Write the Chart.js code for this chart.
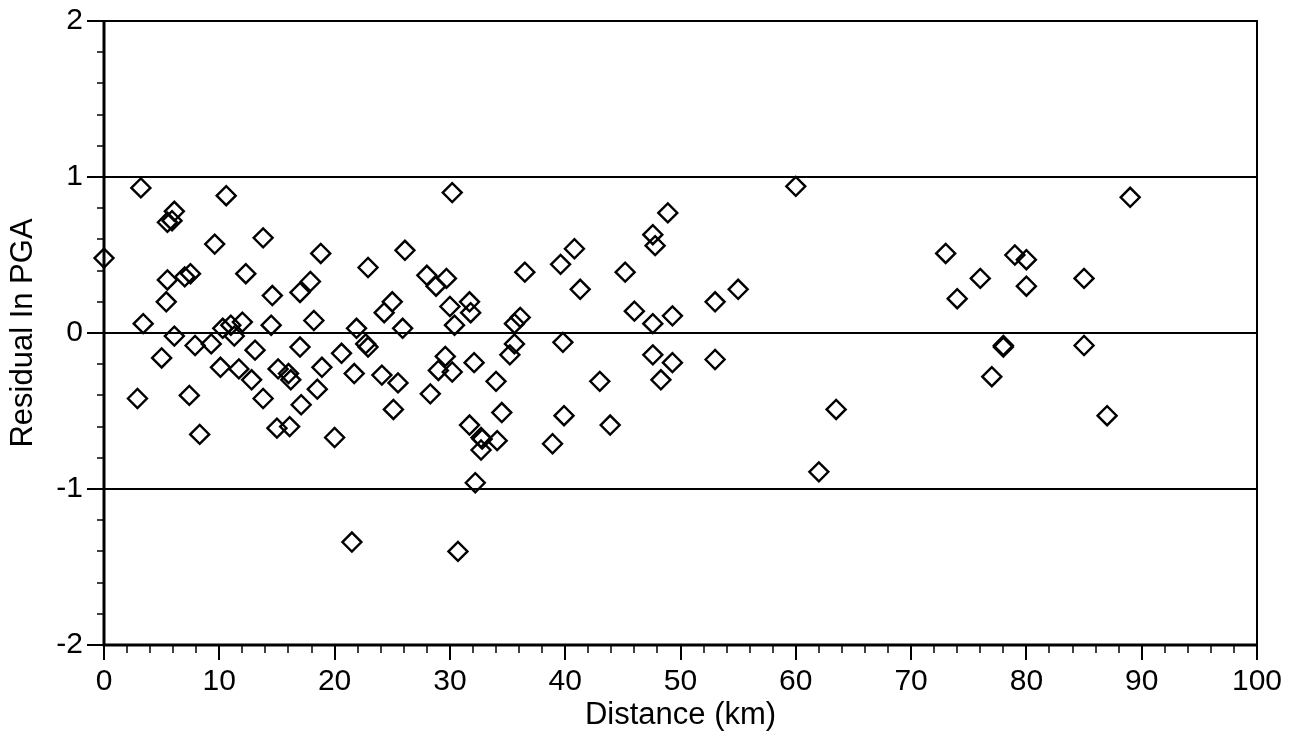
<!DOCTYPE html>
<html>
<head>
<meta charset="utf-8">
<script src="https://cdn.jsdelivr.net/npm/chart.js@4/dist/chart.umd.min.js"></script>
<style>
  html, body { margin: 0; padding: 0; background: #fff; }
  canvas { display: block; }
</style>
</head>
<body>
<canvas id="myChart" width="1297" height="743"></canvas>
<script>
// distance (km) of each record
const distances = [
  0, 3.2, 10.6, 6.1, 5.5, 5.9, 9.6, 13.8, 18.8, 22.9,
  5.5, 7.0, 7.5, 12.3, 14.6, 17.0, 17.9, 5.4, 24.3, 3.4,
  6.1, 10.3, 11.0, 12.0, 11.3, 14.5, 18.2, 21.9, 22.7, 22.9,
  5.0, 7.9, 9.3, 13.1, 17.0, 20.6, 10.1, 11.7, 12.8, 15.1,
  16.0, 16.2, 18.9, 21.7, 24.1, 2.9, 7.4, 13.8, 18.5, 17.1,
  25.1, 8.3, 15.0, 16.1, 20.0, 21.5,
  30.2, 48.9, 47.6, 47.8, 26.1, 40.8, 39.6, 36.5, 45.2, 28.0,
  28.8, 29.7, 41.3, 25.0, 30.0, 31.7, 31.8, 25.9, 30.4, 36.1,
  35.6, 46.0, 47.6, 49.3, 39.8, 35.6, 35.2, 29.6, 32.1, 47.6,
  49.3, 25.5, 29.0, 30.2, 34.0, 43.0, 48.3, 28.3, 34.5, 39.9,
  43.9, 31.7, 32.7, 32.8, 34.1, 32.7, 38.9, 32.2, 30.7,
  60, 89, 73, 79, 80, 76, 85, 74, 80, 53,
  55, 53, 78, 78, 85, 77, 63.5, 87, 62
]
// residual ln PGA for each record
const residuals = [
  0.48, 0.93, 0.88, 0.78, 0.71, 0.72, 0.57, 0.61, 0.51, 0.42,
  0.34, 0.36, 0.38, 0.38, 0.24, 0.26, 0.33, 0.20, 0.13, 0.06,
  -0.02, 0.03, 0.05, 0.07, -0.02, 0.05, 0.08, 0.03, -0.07, -0.09,
  -0.16, -0.08, -0.07, -0.11, -0.09, -0.13, -0.22, -0.23, -0.30, -0.23,
  -0.26, -0.30, -0.22, -0.26, -0.27, -0.42, -0.40, -0.42, -0.36, -0.46,
  -0.49, -0.65, -0.61, -0.60, -0.67, -1.34,
  0.90, 0.77, 0.63, 0.56, 0.53, 0.54, 0.44, 0.39, 0.39, 0.37,
  0.30, 0.35, 0.28, 0.20, 0.17, 0.20, 0.13, 0.03, 0.05, 0.10,
  0.06, 0.14, 0.06, 0.11, -0.06, -0.07, -0.14, -0.15, -0.19, -0.14,
  -0.19, -0.32, -0.24, -0.25, -0.31, -0.31, -0.30, -0.39, -0.51, -0.53,
  -0.59, -0.59, -0.67, -0.68, -0.69, -0.75, -0.71, -0.96, -1.40,
  0.94, 0.87, 0.51, 0.50, 0.47, 0.35, 0.35, 0.22, 0.30, 0.20,
  0.28, -0.17, -0.08, -0.09, -0.08, -0.28, -0.49, -0.53, -0.89
]
const xTicks = [0, 10, 20, 30, 40, 50, 60, 70, 80, 90, 100]
const yTicks = [-2, -1, 0, 1, 2]
const gridValues = [-1, 0, 1]

const points = distances.map((d, i) => ({ x: d, y: residuals[i] }))

const fontFamily = '"Liberation Sans", Arial, Helvetica, sans-serif'

// frame, tick marks and the -1/0/1 lines
const framePlugin = {
  id: 'frame',
  beforeDatasetsDraw: (chart) => {
    const { ctx, chartArea: { left, right, top, bottom }, scales: { x, y } } = chart
    ctx.save()
    ctx.strokeStyle = '#000'
    ctx.lineCap = 'butt'

    // horizontal lines
    ctx.lineWidth = 2
    gridValues.forEach(v => {
      const py = Math.round(y.getPixelForValue(v))
      ctx.beginPath()
      ctx.moveTo(left, py)
      ctx.lineTo(right, py)
      ctx.stroke()
    })

    // top + right border
    ctx.lineWidth = 2
    ctx.beginPath()
    ctx.moveTo(left, top)
    ctx.lineTo(right, top)
    ctx.lineTo(right, bottom)
    ctx.stroke()

    // left + bottom axis, heavier
    ctx.lineWidth = 3
    ctx.beginPath()
    ctx.moveTo(left, top - 1)
    ctx.lineTo(left, bottom)
    ctx.lineTo(right + 1, bottom)
    ctx.stroke()

    // y ticks every 0.2
    ctx.lineWidth = 1.5
    for (let i = -20; i <= 20; i += 2) {
      const v = i / 10
      const py = Math.round(y.getPixelForValue(v))
      const len = (i % 10 === 0) ? 17 : 7
      ctx.lineWidth = (i % 10 === 0) ? 2 : 1.5
      ctx.beginPath()
      ctx.moveTo(left - len, py)
      ctx.lineTo(left, py)
      ctx.stroke()
    }
    // x ticks every 2 km
    for (let v = 0; v <= 100; v += 2) {
      const px = Math.round(x.getPixelForValue(v))
      const len = (v % 10 === 0) ? 15 : 8
      ctx.lineWidth = (v % 10 === 0) ? 2 : 1.5
      ctx.beginPath()
      ctx.moveTo(px, bottom)
      ctx.lineTo(px, bottom + len)
      ctx.stroke()
    }
    ctx.restore()
  }
}

const config = {
  type: 'scatter',
  data: {
    datasets: [{
      label: 'Residual',
      data: points,
      pointStyle: 'rectRot',
      pointRadius: 9.5,
      pointHoverRadius: 9.5,
      borderColor: '#000',
      backgroundColor: 'rgba(0,0,0,0)',
      pointBorderWidth: 2.4,
      clip: false
    }]
  },
  options: {
    responsive: false,
    animation: false,
    layout: { padding: { left: 0, right: 40, top: 21, bottom: 0 } },
    plugins: {
      legend: { display: false },
      tooltip: { enabled: false }
    },
    scales: {
      x: {
        type: 'linear',
        min: 0,
        max: 100,
        afterBuildTicks: (scale) => { scale.ticks = xTicks.map(v => ({ value: v })) },
        afterFit: (scale) => {
          scale.height = 98
          scale.paddingLeft = 0
          scale.paddingRight = 0
        },
        grid: { display: false, drawTicks: false },
        border: { display: false },
        ticks: {
          padding: 19,
          color: '#000',
          font: { family: fontFamily, size: 30 },
          maxRotation: 0,
          callback: v => String(v)
        },
        title: {
          display: true,
          text: 'Distance (km)',
          color: '#000',
          font: { family: fontFamily, size: 31 },
          padding: { top: 0, bottom: 9 }
        }
      },
      y: {
        type: 'linear',
        min: -2,
        max: 2,
        afterBuildTicks: (scale) => { scale.ticks = yTicks.map(v => ({ value: v })) },
        afterFit: (scale) => {
          scale.width = 104
          scale.paddingTop = 0
          scale.paddingBottom = 0
        },
        grid: { display: false, drawTicks: false },
        border: { display: false },
        ticks: {
          padding: 21,
          color: '#000',
          font: { family: fontFamily, size: 30 },
          callback: v => String(v)
        },
        title: {
          display: true,
          text: 'Residual In PGA',
          color: '#000',
          font: { family: fontFamily, size: 31 },
          padding: { top: 5, bottom: 0 }
        }
      }
    }
  },
  plugins: [framePlugin]
}

const ctx = document.getElementById('myChart').getContext('2d')
const myChart = new Chart(ctx, config)
</script>
</body>
</html>
